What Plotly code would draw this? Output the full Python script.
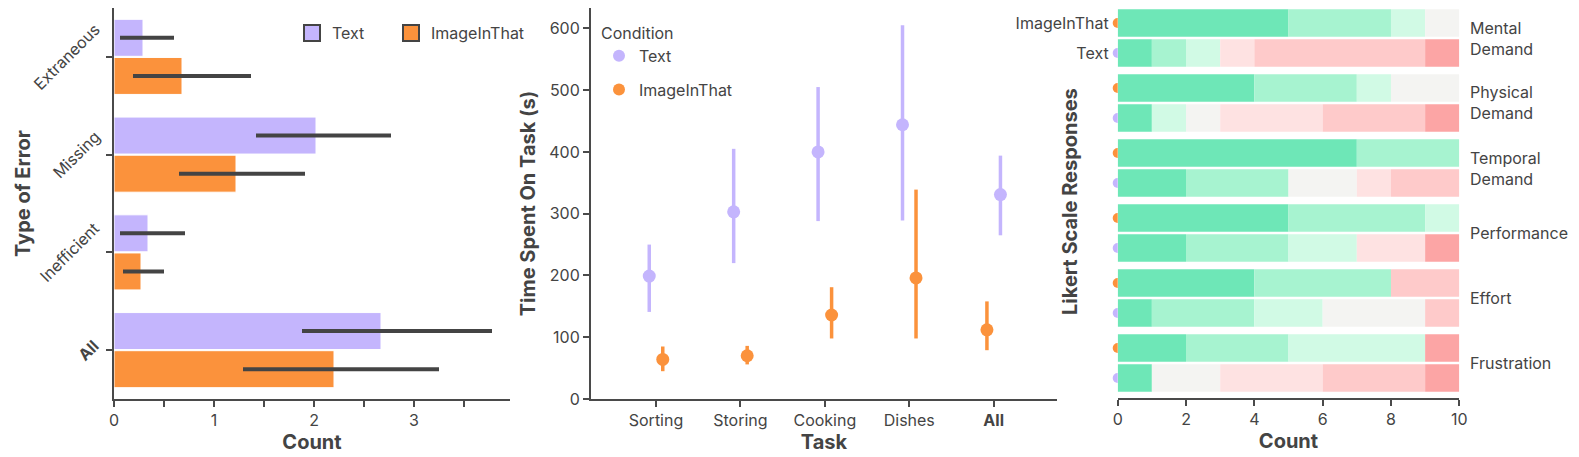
import numpy as np
import plotly.graph_objects as go

# ---- data -------------------------------------------------------------
ERROR_TYPES = ["Extraneous", "Missing", "Inefficient", "<b>All</b>"]
ERR_TEXT = [0.29, 2.02, 0.34, 2.67]
ERR_TEXT_LO = [0.06, 1.42, 0.06, 1.88]
ERR_TEXT_HI = [0.60, 2.77, 0.71, 3.78]
ERR_IIT = [0.68, 1.22, 0.27, 2.20]
ERR_IIT_LO = [0.19, 0.65, 0.09, 1.29]
ERR_IIT_HI = [1.37, 1.91, 0.50, 3.25]

TASKS = ["Sorting", "Storing", "Cooking", "Dishes", "<b>All</b>"]
TIME_TEXT = [199, 303, 400, 444, 331]
TIME_TEXT_LO = [141, 220, 288, 289, 265]
TIME_TEXT_HI = [250, 405, 505, 605, 394]
TIME_IIT = [64, 70, 136, 196, 112]
TIME_IIT_LO = [45, 56, 98, 98, 79]
TIME_IIT_HI = [85, 86, 181, 339, 158]

MEASURES = ["Mental<br>Demand", "Physical<br>Demand", "Temporal<br>Demand",
            "Performance", "Effort", "Frustration"]
LIKERT_LEVELS = ["1", "2", "3", "4", "5", "6", "7"]
LIKERT_IIT = [
    [5, 3, 1, 1, 0, 0, 0],
    [4, 3, 1, 2, 0, 0, 0],
    [7, 3, 0, 0, 0, 0, 0],
    [5, 4, 1, 0, 0, 0, 0],
    [4, 4, 0, 0, 0, 2, 0],
    [2, 3, 4, 0, 0, 0, 1],
]
LIKERT_TEXT = [
    [1, 1, 1, 0, 1, 5, 1],
    [1, 0, 1, 1, 3, 3, 1],
    [2, 3, 0, 2, 1, 2, 0],
    [2, 3, 2, 0, 2, 0, 1],
    [1, 3, 2, 3, 0, 1, 0],
    [1, 0, 0, 2, 3, 3, 1],
]
CONDITIONS = ["ImageInThat", "Text"]

# ---- style ------------------------------------------------------------
# the page body keeps its default 8px margin, so the figure is drawn
# 8px in from the window edge; pixel positions below are window pixels
W, H = 1579, 457
PAGE_PAD = 8
FIG_W, FIG_H = W - PAGE_PAD, H - PAGE_PAD
PURPLE = "#c4b5fd"
ORANGE = "#fb923c"
INK = "#444444"
AXIS = "#4a4a4a"
FONT = "Inter"
LIKERT_COLORS = ["#6ee7b7", "#a7f3d0", "#d1fae5", "#f4f4f2",
                 "#fee2e2", "#fecaca", "#fca5a5"]
DODGE_TEXT = [-0.08, -0.08, -0.08, -0.08, 0.08]
DODGE_IIT = [0.08, 0.08, 0.08, 0.08, -0.08]


def px_x(px):
    return min(1, max(0, (px - PAGE_PAD) / FIG_W))


def px_y(py):
    return min(1, max(0, 1 - (py - PAGE_PAD) / FIG_H))


tick_font = dict(family=FONT, size=16, color=INK)
label_font = dict(family=FONT, size=16, color=INK)
title_font = dict(family=FONT, size=20, color=INK, weight="bold")
axis_common = dict(showline=True, linecolor=AXIS, linewidth=2, ticks="outside",
                   tickcolor=AXIS, tickwidth=2, ticklen=6, tickfont=tick_font,
                   showgrid=False, zeroline=False, automargin=False)

fig = go.Figure()

# ---- panel 1: error types ----------------------------------------------
for name, vals, lo, hi, color, leg in [
    ("Text", ERR_TEXT, ERR_TEXT_LO, ERR_TEXT_HI, PURPLE, "legend"),
    ("ImageInThat", ERR_IIT, ERR_IIT_LO, ERR_IIT_HI, ORANGE, "legend3"),
]:
    vals = np.array(vals)
    fig.add_trace(go.Bar(
        y=ERROR_TYPES, x=vals, orientation="h", name=name,
        marker=dict(color=color, line=dict(color="white", width=1)),
        error_x=dict(type="data", symmetric=False,
                     array=np.array(hi) - vals, arrayminus=vals - np.array(lo),
                     color=INK, thickness=4, width=0),
        xaxis="x", yaxis="y", showlegend=False,
    ))
    fig.add_trace(go.Scatter(
        x=[None], y=[None], mode="markers", name=name, legend=leg,
        marker=dict(symbol="square", size=22, color=color,
                    line=dict(color=INK, width=2)),
        xaxis="x", yaxis="y",
    ))

# rotated category labels, centred on their ticks
for cat in ERROR_TYPES:
    fig.add_annotation(
        text=cat, textangle=-45, xref="paper", yref="y", x=px_x(106), y=cat,
        xanchor="right", yanchor="middle", showarrow=False, font=tick_font,
    )

# ---- panel 2: time on task ---------------------------------------------
task_idx = np.arange(len(TASKS))
for name, vals, lo, hi, dodge, color in [
    ("Text", TIME_TEXT, TIME_TEXT_LO, TIME_TEXT_HI, DODGE_TEXT, PURPLE),
    ("ImageInThat", TIME_IIT, TIME_IIT_LO, TIME_IIT_HI, DODGE_IIT, ORANGE),
]:
    vals = np.array(vals)
    fig.add_trace(go.Scatter(
        x=task_idx + np.array(dodge), y=vals, mode="markers", name=name,
        marker=dict(color=color, size=13),
        error_y=dict(type="data", symmetric=False,
                     array=np.array(hi) - vals, arrayminus=vals - np.array(lo),
                     color=color, thickness=3.5, width=0),
        xaxis="x2", yaxis="y2", showlegend=False,
    ))
    fig.add_trace(go.Scatter(
        x=[None], y=[None], mode="markers", name=name, legend="legend2",
        legendgroup=name, marker=dict(color=color, size=12),
        xaxis="x2", yaxis="y2",
    ))

# ---- panel 3: likert facets --------------------------------------------
facet_axes = {}
for i, measure in enumerate(MEASURES):
    yname = f"y{3 + i}"
    counts = np.array([LIKERT_IIT[i], LIKERT_TEXT[i]])
    base = np.cumsum(counts, axis=1) - counts
    for k, level in enumerate(LIKERT_LEVELS):
        fig.add_trace(go.Bar(
            y=CONDITIONS, x=counts[:, k], base=base[:, k], orientation="h",
            name=level, offsetgroup="likert", width=0.92,
            marker=dict(color=LIKERT_COLORS[k], line=dict(width=0)),
            xaxis="x3", yaxis=yname, showlegend=False,
        ))
    # condition dots, half hidden at the bar start
    fig.add_trace(go.Scatter(
        x=[0, 0], y=CONDITIONS, mode="markers",
        marker=dict(color=[ORANGE, PURPLE], size=10),
        xaxis="x4", yaxis=yname, showlegend=False, cliponaxis=True,
    ))
    top = 8 + 65 * i
    facet_axes[f"yaxis{3 + i}"] = dict(
        domain=[px_y(top + 60), px_y(top)], anchor="x3",
        categoryorder="array", categoryarray=["Text", "ImageInThat"],
        range=[-0.5, 1.5], showline=False, ticks="",
        showticklabels=(i == 0), tickfont=tick_font, ticklabelstandoff=8,
        showgrid=False, zeroline=False, automargin=False, fixedrange=True,
    )
    fig.add_annotation(
        text=measure, xref="paper", yref=f"{yname} domain",
        x=px_x(1468), y=0.5, xanchor="left", yanchor="middle",
        showarrow=False, align="left", font=label_font,
    )

fig.add_annotation(
    text="Type of Error", textangle=-90, xref="paper", yref="paper",
    x=px_x(23), y=px_y(194), xanchor="center", yanchor="middle",
    showarrow=False, font=title_font,
)
fig.add_annotation(
    text="Likert Scale Responses", textangle=-90, xref="paper", yref="paper",
    x=px_x(1070), y=px_y(202), xanchor="center", yanchor="middle",
    showarrow=False, font=title_font,
)

fig.update_layout(
    width=FIG_W, height=FIG_H,
    margin=dict(l=0, r=0, t=0, b=0),
    paper_bgcolor="white", plot_bgcolor="white",
    font=dict(family=FONT, color=INK),
    barmode="group", bargap=0.22, bargroupgap=0.03,
    xaxis=dict(axis_common, domain=[px_x(114), px_x(510)], range=[0, 3.96],
               anchor="y", tickvals=[0, 1, 2, 3],
               minor=dict(dtick=0.5, ticks="outside", ticklen=6,
                          tickcolor=AXIS, tickwidth=2),
               title=dict(text="Count", font=title_font, standoff=2)),
    yaxis=dict(axis_common, domain=[px_y(399), px_y(8)], anchor="x",
               autorange="reversed", showticklabels=False),
    xaxis2=dict(axis_common, domain=[px_x(591), px_x(1057)],
                range=[-0.77, 4.75], anchor="y2",
                tickvals=task_idx, ticktext=TASKS,
                title=dict(text="Task", font=title_font, standoff=2)),
    yaxis2=dict(axis_common, domain=[px_y(399), px_y(8)], anchor="x2",
                range=[0, 633], dtick=100,
                title=dict(text="Time Spent On Task (s)", font=title_font,
                           standoff=8)),
    xaxis3=dict(axis_common, domain=[px_x(1117.7), px_x(1459.3)],
                range=[0, 10], dtick=2, anchor="free", position=px_y(399),
                title=dict(text="Count", font=title_font, standoff=2)),
    xaxis4=dict(domain=[px_x(1104), px_x(1117.7)], range=[-1, 0],
                anchor="y3", visible=False, fixedrange=True),
    legend=dict(x=px_x(292), y=px_y(16), xanchor="left", yanchor="top",
                font=label_font, bgcolor="rgba(0,0,0,0)"),
    legend3=dict(x=px_x(391), y=px_y(16), xanchor="left", yanchor="top",
                 font=label_font, bgcolor="rgba(0,0,0,0)"),
    legend2=dict(x=px_x(599), y=px_y(18), xanchor="left", yanchor="top",
                 title=dict(text="Condition", font=label_font),
                 font=label_font, bgcolor="rgba(0,0,0,0)", tracegroupgap=10),
    **facet_axes,
)

fig.write_html("out.html")
